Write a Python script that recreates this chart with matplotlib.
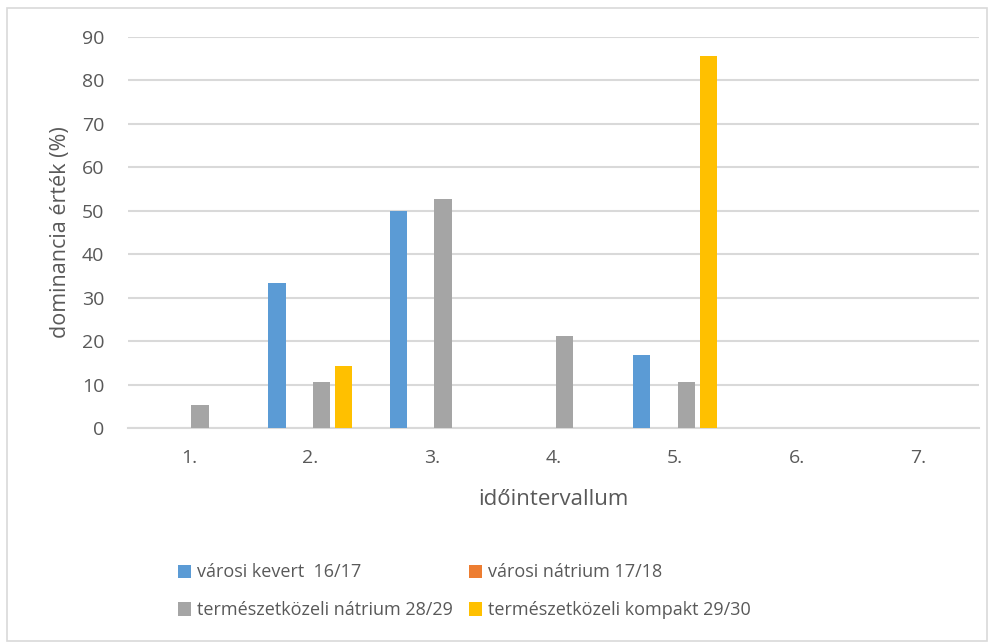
import numpy as np
import matplotlib
matplotlib.use('Agg')
import matplotlib.pyplot as plt
from matplotlib.patches import Rectangle

# data
categories = ['1.', '2.', '3.', '4.', '5.', '6.', '7.']
series_names = ['városi kevert  16/17', 'városi nátrium 17/18',
                'természetközeli nátrium 28/29', 'természetközeli kompakt 29/30']
varosi_kevert = [0, 33.3, 50.0, 0, 16.7, 0, 0]
varosi_natrium = [0, 0, 0, 0, 0, 0, 0]
termkoz_natrium = [5.3, 10.5, 52.6, 21.1, 10.5, 0, 0]
termkoz_kompakt = [0, 14.3, 0, 0, 85.7, 0, 0]
colors = ['#5b9bd5', '#ed7d31', '#a5a5a5', '#ffc000']

text_color = '#595959'
grid_color = '#d9d9d9'
plt.rcParams['font.family'] = ['Open Sans', 'DejaVu Sans']

fig = plt.figure(figsize=(9.92, 6.43), dpi=100)
ax = fig.add_axes([0.129, 0.3344, 0.858, 0.6081])

x = np.arange(len(categories))
step = 0.183
width = 0.142
values = [varosi_kevert, varosi_natrium, termkoz_natrium, termkoz_kompakt]
handles = []
for i, (vals, col, name) in enumerate(zip(values, colors, series_names)):
    b = ax.bar(x + (i - 1.5) * step, vals, width=width, color=col, label=name, zorder=3)
    handles.append(b)

ax.set_xlim(-0.5, len(categories) - 0.5)
ax.set_ylim(0, 90)
ax.set_yticks(range(0, 91, 10))
ax.set_xticks(x)
ax.set_xticklabels(categories)
ax.grid(axis='y', color=grid_color, linewidth=1.5, zorder=0)
for s in ['top', 'right', 'left']:
    ax.spines[s].set_visible(False)
ax.spines['bottom'].set_color(grid_color)
ax.spines['bottom'].set_linewidth(1.5)
ax.tick_params(axis='both', length=0, labelsize=14, colors=text_color)
ax.tick_params(axis='y', pad=17)
ax.tick_params(axis='x', pad=15)

ax.set_ylabel('dominancia érték (%)', fontsize=15.5, color=text_color, labelpad=8)
ax.set_xlabel('időintervallum', fontsize=16, color=text_color, labelpad=16)

# legend rows: first two series, then last two
order = [0, 2, 1, 3]
fig.legend([handles[i] for i in order], [series_names[i] for i in order],
           ncol=2, loc='upper left', bbox_to_anchor=(0.172, 0.135),
           frameon=False, fontsize=13, labelcolor=text_color,
           handlelength=0.75, handleheight=0.75, handletextpad=0.3,
           columnspacing=0.9, labelspacing=1.1, borderaxespad=0)

fig.patches.append(Rectangle((7 / 992, 2 / 643), 980 / 992, 633 / 643,
                             transform=fig.transFigure, fill=False,
                             edgecolor=grid_color, linewidth=1.2))

fig.savefig('out.png', dpi=100, facecolor='white')
